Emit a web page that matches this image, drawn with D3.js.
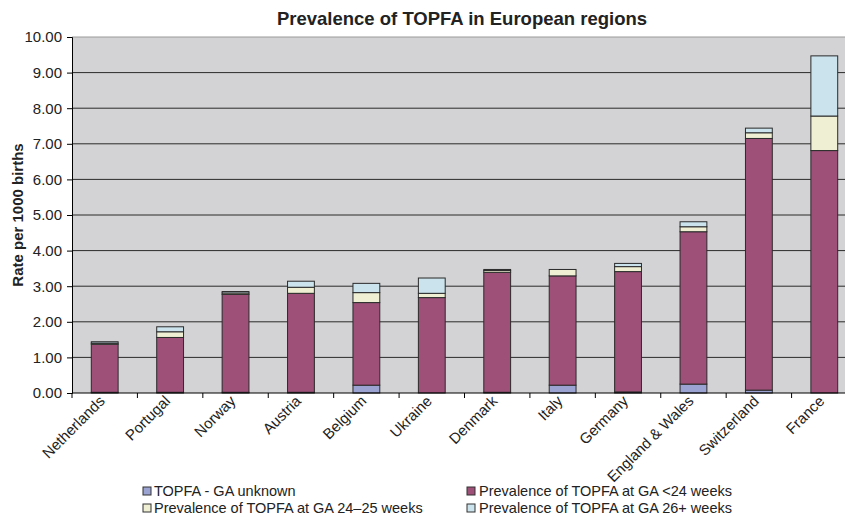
<!DOCTYPE html>
<html>
<head>
<meta charset="utf-8">
<script src="https://cdn.jsdelivr.net/npm/d3@7/dist/d3.min.js"></script>
<style>
  body { margin: 0; background: #fff; }
  svg { display: block; font-family: "Liberation Sans", Arial, sans-serif; }
</style>
</head>
<body>
<script>
// categories and stacked series (rate per 1000 births)
const countries = ['Netherlands', 'Portugal', 'Norway', 'Austria', 'Belgium', 'Ukraine',
                   'Denmark', 'Italy', 'Germany', 'England & Wales', 'Switzerland', 'France'];
const gaUnknown = [0.02, 0.02, 0.02, 0.02, 0.22, 0.00, 0.02, 0.22, 0.03, 0.25, 0.08, 0.00];
const gaUnder24 = [1.35, 1.54, 2.75, 2.78, 2.32, 2.68, 3.37, 3.07, 3.38, 4.28, 7.07, 6.81];
const ga2425    = [0.03, 0.16, 0.04, 0.17, 0.28, 0.12, 0.05, 0.18, 0.14, 0.14, 0.16, 0.97];
const ga26plus  = [0.04, 0.14, 0.04, 0.17, 0.26, 0.43, 0.03, 0.00, 0.09, 0.14, 0.13, 1.69];
const yTicks = [0, 1, 2, 3, 4, 5, 6, 7, 8, 9, 10];

const seriesNames = ['TOPFA - GA unknown', 'Prevalence of TOPFA at GA <24 weeks',
                     'Prevalence of TOPFA at GA 24\u201325 weeks', 'Prevalence of TOPFA at GA 26+ weeks'];
const seriesKeys = ['unknown', 'under24', 'w2425', 'w26'];
const colors = ['#9ba3d3', '#9e5079', '#efefd3', '#cbe3ec'];

const table = countries.map((c, i) => ({
  country: c, unknown: gaUnknown[i], under24: gaUnder24[i], w2425: ga2425[i], w26: ga26plus[i]
}));

const width = 845, height = 531;
const plotTop = 37, plotBottom = 393, plotLeft = 72, plotRight = 857;

const svg = d3.select('body').append('svg')
  .attr('width', width).attr('height', height);

const x = d3.scaleBand().domain(countries).range([plotLeft, plotRight]);
const y = d3.scaleLinear().domain([0, 10]).range([plotBottom, plotTop]);
const barW = x.bandwidth() * 0.41;

// plot background
svg.append('rect')
  .attr('x', plotLeft).attr('y', plotTop)
  .attr('width', plotRight - plotLeft).attr('height', plotBottom - plotTop)
  .attr('fill', '#d3d3d5');

// gridlines
svg.append('g').selectAll('line')
  .data(yTicks.slice(1, -1))
  .enter().append('line')
  .attr('x1', plotLeft).attr('x2', plotRight)
  .attr('y1', d => y(d)).attr('y2', d => y(d))
  .attr('stroke', '#2b2b2b').attr('stroke-width', 1);

svg.append('line')
  .attr('x1', plotLeft).attr('x2', plotRight)
  .attr('y1', plotTop).attr('y2', plotTop)
  .attr('stroke', '#9a9a9a');

// stacked bars
const stacked = d3.stack().keys(seriesKeys)(table);
svg.append('g').selectAll('g')
  .data(stacked)
  .enter().append('g')
  .attr('fill', (d, i) => colors[i])
  .selectAll('rect')
  .data(d => d.filter(p => p[1] - p[0] > 0))
  .enter().append('rect')
  .attr('x', d => x(d.data.country) + (x.bandwidth() - barW) / 2)
  .attr('y', d => y(d[1]))
  .attr('width', barW)
  .attr('height', d => y(d[0]) - y(d[1]))
  .attr('stroke', '#2a2a2a').attr('stroke-width', 1);

// y axis
const yAxis = svg.append('g')
  .attr('transform', `translate(${plotLeft},0)`)
  .call(d3.axisLeft(y).tickValues(yTicks).tickFormat(d3.format('.2f')).tickSize(5).tickPadding(5));
yAxis.select('.domain').attr('stroke', '#000');
yAxis.selectAll('.tick line').attr('stroke', '#000');
yAxis.selectAll('text').attr('font-size', 15).attr('fill', '#222')
  .attr('font-family', '"Liberation Sans", Arial, sans-serif');

// x axis baseline and ticks at category boundaries
svg.append('line')
  .attr('x1', plotLeft).attr('x2', plotRight)
  .attr('y1', plotBottom).attr('y2', plotBottom)
  .attr('stroke', '#000');
svg.append('g').selectAll('line')
  .data(countries)
  .enter().append('line')
  .attr('x1', d => x(d)).attr('x2', d => x(d))
  .attr('y1', plotBottom).attr('y2', plotBottom + 5)
  .attr('stroke', '#000');

// x labels rotated
svg.append('g').selectAll('text')
  .data(countries)
  .enter().append('text')
  .attr('transform', d => `translate(${x(d) + x.bandwidth() / 2 + 1},${plotBottom + 9}) rotate(-45)`)
  .attr('text-anchor', 'end')
  .attr('font-size', 15)
  .attr('fill', '#222')
  .text(d => d);

// title
svg.append('text')
  .attr('x', 462).attr('y', 25)
  .attr('text-anchor', 'middle')
  .attr('font-size', 18.5).attr('font-weight', 'bold')
  .attr('fill', '#222')
  .text('Prevalence of TOPFA in European regions');

// y title
svg.append('text')
  .attr('transform', 'translate(23,215) rotate(-90)')
  .attr('text-anchor', 'middle')
  .attr('font-size', 15).attr('font-weight', 'bold')
  .attr('fill', '#222')
  .text('Rate per 1000 births');

// legend
const legendPos = [[143, 491], [467, 491], [143, 508], [467, 508]];
const legend = svg.append('g').selectAll('g')
  .data(seriesNames)
  .enter().append('g')
  .attr('transform', (d, i) => `translate(${legendPos[i][0]},${legendPos[i][1]})`);
legend.append('rect')
  .attr('x', 0).attr('y', -4)
  .attr('width', 8).attr('height', 8)
  .attr('fill', (d, i) => colors[i])
  .attr('stroke', '#333').attr('stroke-width', 1);
legend.append('text')
  .attr('x', (d, i) => i % 2 ? 12 : 11).attr('y', 5)
  .attr('font-size', 14.5).attr('fill', '#222')
  .text(d => d);
</script>
</body>
</html>
